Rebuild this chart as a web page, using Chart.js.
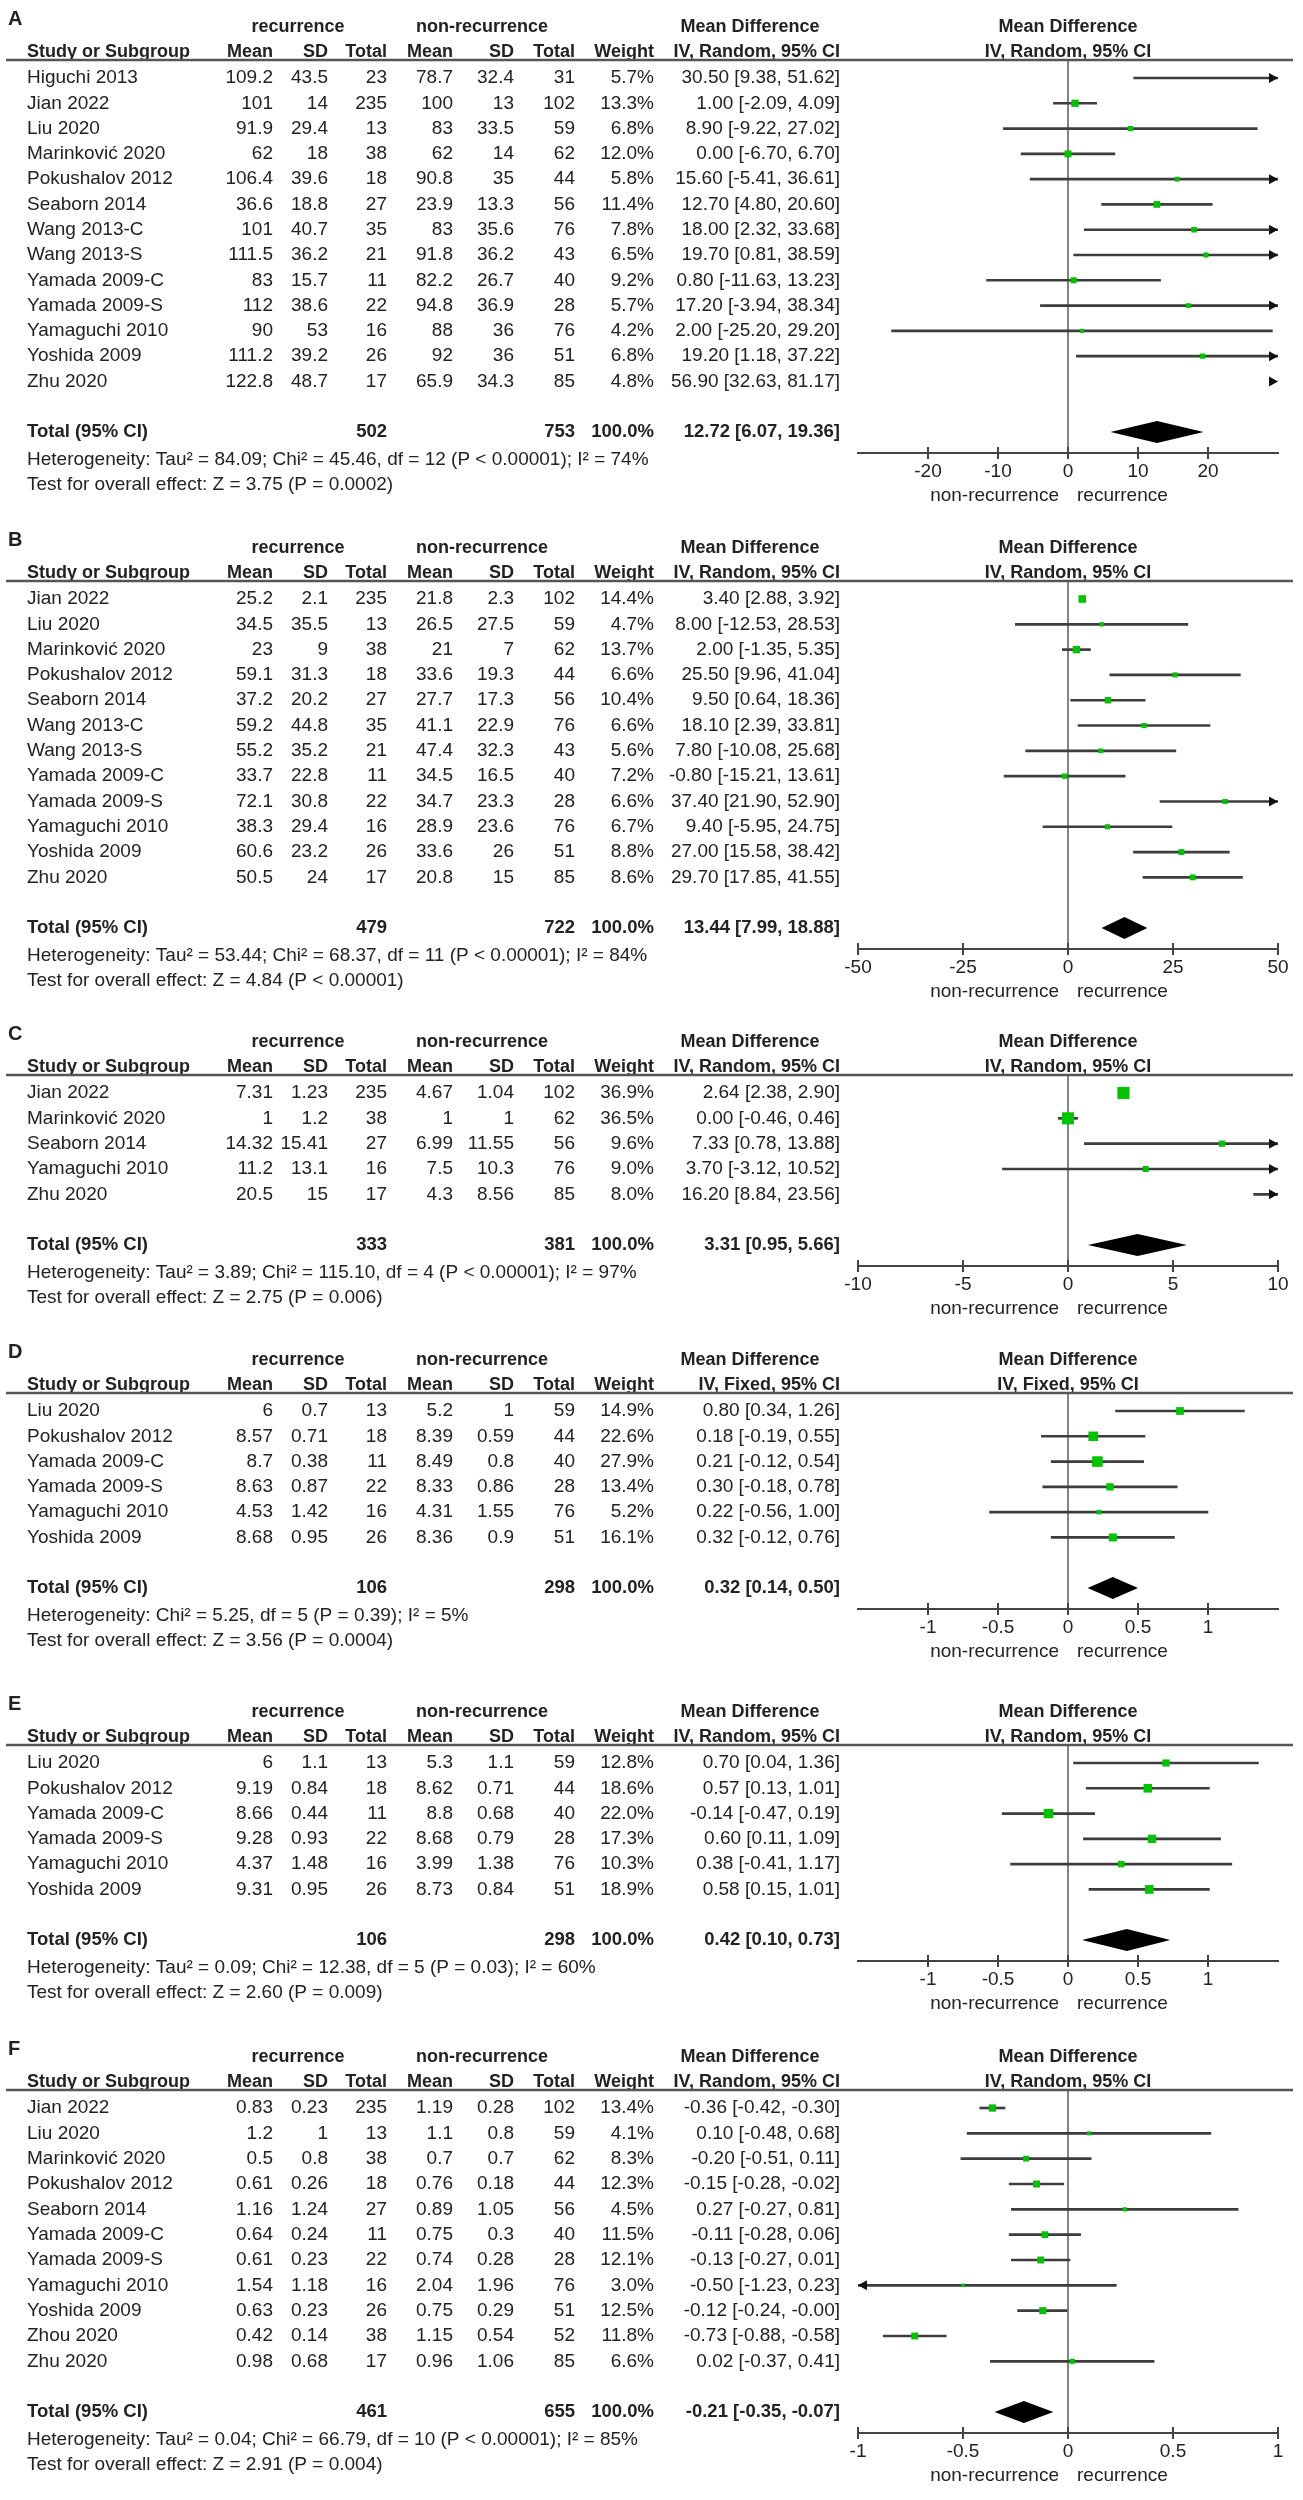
<!DOCTYPE html>
<html>
<head>
<meta charset="utf-8">
<script src="https://cdn.jsdelivr.net/npm/chart.js@4.4.1/dist/chart.umd.min.js"></script>
<style>
  html, body { margin: 0; padding: 0; background: #fff; }
  #page { position: relative; width: 1303px; height: 2500px; overflow: hidden; }
</style>
</head>
<body>
<div id="page"></div>
<script>
// ---- Panel A ----
const studiesA = ['Higuchi 2013', 'Jian 2022', 'Liu 2020', 'Marinković 2020', 'Pokushalov 2012', 'Seaborn 2014', 'Wang 2013-C', 'Wang 2013-S', 'Yamada 2009-C', 'Yamada 2009-S', 'Yamaguchi 2010', 'Yoshida 2009', 'Zhu 2020'];
const recMeanA = [109.2, 101, 91.9, 62, 106.4, 36.6, 101, 111.5, 83, 112, 90, 111.2, 122.8];
const recSdA = [43.5, 14, 29.4, 18, 39.6, 18.8, 40.7, 36.2, 15.7, 38.6, 53, 39.2, 48.7];
const recNA = [23, 235, 13, 38, 18, 27, 35, 21, 11, 22, 16, 26, 17];
const nonMeanA = [78.7, 100, 83, 62, 90.8, 23.9, 83, 91.8, 82.2, 94.8, 88, 92, 65.9];
const nonSdA = [32.4, 13, 33.5, 14, 35, 13.3, 35.6, 36.2, 26.7, 36.9, 36, 36, 34.3];
const nonNA = [31, 102, 59, 62, 44, 56, 76, 43, 40, 28, 76, 51, 85];
const weightA = [5.7, 13.3, 6.8, 12.0, 5.8, 11.4, 7.8, 6.5, 9.2, 5.7, 4.2, 6.8, 4.8];
const mdA = [30.50, 1.00, 8.90, 0.00, 15.60, 12.70, 18.00, 19.70, 0.80, 17.20, 2.00, 19.20, 56.90];
const lowA = [9.38, -2.09, -9.22, -6.70, -5.41, 4.80, 2.32, 0.81, -11.63, -3.94, -25.20, 1.18, 32.63];
const highA = [51.62, 4.09, 27.02, 6.70, 36.61, 20.60, 33.68, 38.59, 13.23, 38.34, 29.20, 37.22, 81.17];
const totalNA = [502, 753];
const pooledA = [12.72, 6.07, 19.36];
const hetA = 'Heterogeneity: Tau² = 84.09; Chi² = 45.46, df = 12 (P < 0.00001); I² = 74%';
const testA = 'Test for overall effect: Z = 3.75 (P = 0.0002)';
const methodA = 'IV, Random, 95% CI';
const axisA = [-30, 30];
const ticksA = [-20, -10, 0, 10, 20];

// ---- Panel B ----
const studiesB = ['Jian 2022', 'Liu 2020', 'Marinković 2020', 'Pokushalov 2012', 'Seaborn 2014', 'Wang 2013-C', 'Wang 2013-S', 'Yamada 2009-C', 'Yamada 2009-S', 'Yamaguchi 2010', 'Yoshida 2009', 'Zhu 2020'];
const recMeanB = [25.2, 34.5, 23, 59.1, 37.2, 59.2, 55.2, 33.7, 72.1, 38.3, 60.6, 50.5];
const recSdB = [2.1, 35.5, 9, 31.3, 20.2, 44.8, 35.2, 22.8, 30.8, 29.4, 23.2, 24];
const recNB = [235, 13, 38, 18, 27, 35, 21, 11, 22, 16, 26, 17];
const nonMeanB = [21.8, 26.5, 21, 33.6, 27.7, 41.1, 47.4, 34.5, 34.7, 28.9, 33.6, 20.8];
const nonSdB = [2.3, 27.5, 7, 19.3, 17.3, 22.9, 32.3, 16.5, 23.3, 23.6, 26, 15];
const nonNB = [102, 59, 62, 44, 56, 76, 43, 40, 28, 76, 51, 85];
const weightB = [14.4, 4.7, 13.7, 6.6, 10.4, 6.6, 5.6, 7.2, 6.6, 6.7, 8.8, 8.6];
const mdB = [3.40, 8.00, 2.00, 25.50, 9.50, 18.10, 7.80, -0.80, 37.40, 9.40, 27.00, 29.70];
const lowB = [2.88, -12.53, -1.35, 9.96, 0.64, 2.39, -10.08, -15.21, 21.90, -5.95, 15.58, 17.85];
const highB = [3.92, 28.53, 5.35, 41.04, 18.36, 33.81, 25.68, 13.61, 52.90, 24.75, 38.42, 41.55];
const totalNB = [479, 722];
const pooledB = [13.44, 7.99, 18.88];
const hetB = 'Heterogeneity: Tau² = 53.44; Chi² = 68.37, df = 11 (P < 0.00001); I² = 84%';
const testB = 'Test for overall effect: Z = 4.84 (P < 0.00001)';
const methodB = 'IV, Random, 95% CI';
const axisB = [-50, 50];
const ticksB = [-50, -25, 0, 25, 50];

// ---- Panel C ----
const studiesC = ['Jian 2022', 'Marinković 2020', 'Seaborn 2014', 'Yamaguchi 2010', 'Zhu 2020'];
const recMeanC = [7.31, 1, 14.32, 11.2, 20.5];
const recSdC = [1.23, 1.2, 15.41, 13.1, 15];
const recNC = [235, 38, 27, 16, 17];
const nonMeanC = [4.67, 1, 6.99, 7.5, 4.3];
const nonSdC = [1.04, 1, 11.55, 10.3, 8.56];
const nonNC = [102, 62, 56, 76, 85];
const weightC = [36.9, 36.5, 9.6, 9.0, 8.0];
const mdC = [2.64, 0.00, 7.33, 3.70, 16.20];
const lowC = [2.38, -0.46, 0.78, -3.12, 8.84];
const highC = [2.90, 0.46, 13.88, 10.52, 23.56];
const totalNC = [333, 381];
const pooledC = [3.31, 0.95, 5.66];
const hetC = 'Heterogeneity: Tau² = 3.89; Chi² = 115.10, df = 4 (P < 0.00001); I² = 97%';
const testC = 'Test for overall effect: Z = 2.75 (P = 0.006)';
const methodC = 'IV, Random, 95% CI';
const axisC = [-10, 10];
const ticksC = [-10, -5, 0, 5, 10];

// ---- Panel D ----
const studiesD = ['Liu 2020', 'Pokushalov 2012', 'Yamada 2009-C', 'Yamada 2009-S', 'Yamaguchi 2010', 'Yoshida 2009'];
const recMeanD = [6, 8.57, 8.7, 8.63, 4.53, 8.68];
const recSdD = [0.7, 0.71, 0.38, 0.87, 1.42, 0.95];
const recND = [13, 18, 11, 22, 16, 26];
const nonMeanD = [5.2, 8.39, 8.49, 8.33, 4.31, 8.36];
const nonSdD = [1, 0.59, 0.8, 0.86, 1.55, 0.9];
const nonND = [59, 44, 40, 28, 76, 51];
const weightD = [14.9, 22.6, 27.9, 13.4, 5.2, 16.1];
const mdD = [0.80, 0.18, 0.21, 0.30, 0.22, 0.32];
const lowD = [0.34, -0.19, -0.12, -0.18, -0.56, -0.12];
const highD = [1.26, 0.55, 0.54, 0.78, 1.00, 0.76];
const totalND = [106, 298];
const pooledD = [0.32, 0.14, 0.50];
const hetD = 'Heterogeneity: Chi² = 5.25, df = 5 (P = 0.39); I² = 5%';
const testD = 'Test for overall effect: Z = 3.56 (P = 0.0004)';
const methodD = 'IV, Fixed, 95% CI';
const axisD = [-1.5, 1.5];
const ticksD = [-1, -0.5, 0, 0.5, 1];

// ---- Panel E ----
const studiesE = ['Liu 2020', 'Pokushalov 2012', 'Yamada 2009-C', 'Yamada 2009-S', 'Yamaguchi 2010', 'Yoshida 2009'];
const recMeanE = [6, 9.19, 8.66, 9.28, 4.37, 9.31];
const recSdE = [1.1, 0.84, 0.44, 0.93, 1.48, 0.95];
const recNE = [13, 18, 11, 22, 16, 26];
const nonMeanE = [5.3, 8.62, 8.8, 8.68, 3.99, 8.73];
const nonSdE = [1.1, 0.71, 0.68, 0.79, 1.38, 0.84];
const nonNE = [59, 44, 40, 28, 76, 51];
const weightE = [12.8, 18.6, 22.0, 17.3, 10.3, 18.9];
const mdE = [0.70, 0.57, -0.14, 0.60, 0.38, 0.58];
const lowE = [0.04, 0.13, -0.47, 0.11, -0.41, 0.15];
const highE = [1.36, 1.01, 0.19, 1.09, 1.17, 1.01];
const totalNE = [106, 298];
const pooledE = [0.42, 0.10, 0.73];
const hetE = 'Heterogeneity: Tau² = 0.09; Chi² = 12.38, df = 5 (P = 0.03); I² = 60%';
const testE = 'Test for overall effect: Z = 2.60 (P = 0.009)';
const methodE = 'IV, Random, 95% CI';
const axisE = [-1.5, 1.5];
const ticksE = [-1, -0.5, 0, 0.5, 1];

// ---- Panel F ----
const studiesF = ['Jian 2022', 'Liu 2020', 'Marinković 2020', 'Pokushalov 2012', 'Seaborn 2014', 'Yamada 2009-C', 'Yamada 2009-S', 'Yamaguchi 2010', 'Yoshida 2009', 'Zhou 2020', 'Zhu 2020'];
const recMeanF = [0.83, 1.2, 0.5, 0.61, 1.16, 0.64, 0.61, 1.54, 0.63, 0.42, 0.98];
const recSdF = [0.23, 1, 0.8, 0.26, 1.24, 0.24, 0.23, 1.18, 0.23, 0.14, 0.68];
const recNF = [235, 13, 38, 18, 27, 11, 22, 16, 26, 38, 17];
const nonMeanF = [1.19, 1.1, 0.7, 0.76, 0.89, 0.75, 0.74, 2.04, 0.75, 1.15, 0.96];
const nonSdF = [0.28, 0.8, 0.7, 0.18, 1.05, 0.3, 0.28, 1.96, 0.29, 0.54, 1.06];
const nonNF = [102, 59, 62, 44, 56, 40, 28, 76, 51, 52, 85];
const weightF = [13.4, 4.1, 8.3, 12.3, 4.5, 11.5, 12.1, 3.0, 12.5, 11.8, 6.6];
const mdF = [-0.36, 0.10, -0.20, -0.15, 0.27, -0.11, -0.13, -0.50, -0.12, -0.73, 0.02];
const lowF = [-0.42, -0.48, -0.51, -0.28, -0.27, -0.28, -0.27, -1.23, -0.24, -0.88, -0.37];
const highF = [-0.30, 0.68, 0.11, -0.02, 0.81, 0.06, 0.01, 0.23, -0.00, -0.58, 0.41];
const totalNF = [461, 655];
const pooledF = [-0.21, -0.35, -0.07];
const hetF = 'Heterogeneity: Tau² = 0.04; Chi² = 66.79, df = 10 (P < 0.00001); I² = 85%';
const testF = 'Test for overall effect: Z = 2.91 (P = 0.004)';
const methodF = 'IV, Random, 95% CI';
const axisF = [-1, 1];
const ticksF = [-1, -0.5, 0, 0.5, 1];

// layout / style
const FAMILY = '"Liberation Sans", Arial, sans-serif';
const TEXT = '#222';
const ROW = 25.3;        // px per study row
const HEAD = 53;         // canvas top -> header rule
const TOP_GAP = 18;      // header rule -> first row
const BOTTOM_GAP = 21;   // total row -> axis
const AXIS_SPACE = 62;
const COLS = [273, 328, 387, 453, 514, 575, 654, 840]; // right edges of table columns

const panels = [
  { label: 'A', top: 7, studies: studiesA, recMean: recMeanA, recSd: recSdA, recN: recNA, nonMean: nonMeanA, nonSd: nonSdA, nonN: nonNA, weight: weightA, md: mdA, low: lowA, high: highA, totalN: totalNA, pooled: pooledA, het: hetA, test: testA, method: methodA, axis: axisA, ticks: ticksA },
  { label: 'B', top: 528, studies: studiesB, recMean: recMeanB, recSd: recSdB, recN: recNB, nonMean: nonMeanB, nonSd: nonSdB, nonN: nonNB, weight: weightB, md: mdB, low: lowB, high: highB, totalN: totalNB, pooled: pooledB, het: hetB, test: testB, method: methodB, axis: axisB, ticks: ticksB },
  { label: 'C', top: 1022, studies: studiesC, recMean: recMeanC, recSd: recSdC, recN: recNC, nonMean: nonMeanC, nonSd: nonSdC, nonN: nonNC, weight: weightC, md: mdC, low: lowC, high: highC, totalN: totalNC, pooled: pooledC, het: hetC, test: testC, method: methodC, axis: axisC, ticks: ticksC },
  { label: 'D', top: 1340, studies: studiesD, recMean: recMeanD, recSd: recSdD, recN: recND, nonMean: nonMeanD, nonSd: nonSdD, nonN: nonND, weight: weightD, md: mdD, low: lowD, high: highD, totalN: totalND, pooled: pooledD, het: hetD, test: testD, method: methodD, axis: axisD, ticks: ticksD },
  { label: 'E', top: 1692, studies: studiesE, recMean: recMeanE, recSd: recSdE, recN: recNE, nonMean: nonMeanE, nonSd: nonSdE, nonN: nonNE, weight: weightE, md: mdE, low: lowE, high: highE, totalN: totalNE, pooled: pooledE, het: hetE, test: testE, method: methodE, axis: axisE, ticks: ticksE },
  { label: 'F', top: 2037, studies: studiesF, recMean: recMeanF, recSd: recSdF, recN: recNF, nonMean: nonMeanF, nonSd: nonSdF, nonN: nonNF, weight: weightF, md: mdF, low: lowF, high: highF, totalN: totalNF, pooled: pooledF, het: hetF, test: testF, method: methodF, axis: axisF, ticks: ticksF }
];

function fmt2(v) {
  return (Object.is(v, -0) ? '-' : '') + v.toFixed(2);
}

function ciText(m, l, h) {
  return fmt2(m) + ' [' + fmt2(l) + ', ' + fmt2(h) + ']';
}

function put(ctx, s, x, y, align, font) {
  ctx.font = font;
  ctx.textAlign = align;
  ctx.fillText(s, x, y);
}

function arrowHead(ctx, x, y, dir) {
  ctx.beginPath();
  ctx.moveTo(x, y);
  ctx.lineTo(x - dir * 9, y - 5);
  ctx.lineTo(x - dir * 9, y + 5);
  ctx.closePath();
  ctx.fill();
}

function makeTablePlugin(p) {
  return {
    id: 'forestTable',
    beforeDatasetsDraw(chart) {
      const { ctx, chartArea } = chart;
      const x0 = chart.scales.x.getPixelForValue(0);
      ctx.save();
      ctx.strokeStyle = '#5a5a5a';
      ctx.lineWidth = 1.5;
      ctx.beginPath();
      ctx.moveTo(x0, chartArea.top);
      ctx.lineTo(x0, chartArea.bottom);
      ctx.stroke();
      ctx.restore();
    },
    afterDraw(chart) {
      const { ctx, chartArea } = chart;
      const xs = chart.scales.x;
      const ys = chart.scales.y;
      const x0 = xs.getPixelForValue(0);
      const n = p.studies.length;
      const reg = '19px ' + FAMILY;
      const bold = 'bold 18px ' + FAMILY;

      ctx.save();
      ctx.fillStyle = TEXT;
      ctx.textBaseline = 'middle';

      // panel letter + header
      put(ctx, p.label, 8, 12, 'left', 'bold 20px ' + FAMILY);
      put(ctx, 'recurrence', 298, 20, 'center', bold);
      put(ctx, 'non-recurrence', 482, 20, 'center', bold);
      put(ctx, 'Mean Difference', 750, 20, 'center', bold);
      put(ctx, 'Mean Difference', x0, 20, 'center', bold);
      put(ctx, 'Study or Subgroup', 27, 45, 'left', bold);
      const heads = ['Mean', 'SD', 'Total', 'Mean', 'SD', 'Total', 'Weight', p.method];
      heads.forEach((h, k) => put(ctx, h, COLS[k], 45, 'right', bold));
      put(ctx, p.method, x0, 45, 'center', bold);

      // header rule
      ctx.fillStyle = '#555';
      ctx.fillRect(6, chartArea.top - 1.25, 1287, 2.5);
      ctx.fillStyle = TEXT;

      // study rows
      p.studies.forEach((s, i) => {
        const y = ys.getPixelForValue(i);
        put(ctx, s, 27, y, 'left', reg);
        const cells = [
          String(p.recMean[i]), String(p.recSd[i]), String(p.recN[i]),
          String(p.nonMean[i]), String(p.nonSd[i]), String(p.nonN[i]),
          p.weight[i].toFixed(1) + '%', ciText(p.md[i], p.low[i], p.high[i])
        ];
        cells.forEach((c, k) => put(ctx, c, COLS[k], y, 'right', reg));
      });

      // total row
      const yt = ys.getPixelForValue(n + 1);
      const tb = 'bold 18.5px ' + FAMILY;
      put(ctx, 'Total (95% CI)', 27, yt, 'left', tb);
      put(ctx, String(p.totalN[0]), COLS[2], yt, 'right', tb);
      put(ctx, String(p.totalN[1]), COLS[5], yt, 'right', tb);
      put(ctx, (100).toFixed(1) + '%', COLS[6], yt, 'right', tb);
      put(ctx, ciText(p.pooled[0], p.pooled[1], p.pooled[2]), COLS[7], yt, 'right', tb);
      put(ctx, p.het, 27, yt + 28, 'left', reg);
      put(ctx, p.test, 27, yt + 53, 'left', reg);

      // pooled diamond
      ctx.fillStyle = '#000';
      ctx.beginPath();
      ctx.moveTo(xs.getPixelForValue(p.pooled[1]), yt);
      ctx.lineTo(xs.getPixelForValue(p.pooled[0]), yt - 11);
      ctx.lineTo(xs.getPixelForValue(p.pooled[2]), yt);
      ctx.lineTo(xs.getPixelForValue(p.pooled[0]), yt + 11);
      ctx.closePath();
      ctx.fill();

      // arrows for intervals running off the axis
      ctx.fillStyle = '#111';
      p.low.forEach((l, i) => {
        const y = ys.getPixelForValue(i);
        if (p.high[i] > xs.max) arrowHead(ctx, xs.getPixelForValue(xs.max), y, 1);
        if (l < xs.min) arrowHead(ctx, xs.getPixelForValue(xs.min), y, -1);
      });

      // tick marks also rise above the axis line
      const axisY = chartArea.bottom;
      ctx.strokeStyle = '#444';
      ctx.lineWidth = 2;
      xs.ticks.forEach(t => {
        const px = xs.getPixelForValue(t.value);
        ctx.beginPath();
        ctx.moveTo(px, axisY - 6);
        ctx.lineTo(px, axisY);
        ctx.stroke();
      });

      // favours labels
      ctx.fillStyle = TEXT;
      put(ctx, 'non-recurrence', x0 - 9, axisY + 43, 'right', reg);
      put(ctx, 'recurrence', x0 + 9, axisY + 43, 'left', reg);
      ctx.restore();
    }
  };
}

const page = document.getElementById('page');

panels.forEach(p => {
  const n = p.studies.length;
  const chartH = TOP_GAP + BOTTOM_GAP + (n + 1) * ROW;
  const H = Math.round(HEAD + chartH + AXIS_SPACE);
  const canvas = document.createElement('canvas');
  canvas.width = 1303;
  canvas.height = H;
  canvas.style.position = 'absolute';
  canvas.style.left = '0px';
  canvas.style.top = p.top + 'px';
  canvas.style.width = '1303px';
  canvas.style.height = H + 'px';
  page.appendChild(canvas);

  new Chart(canvas, {
    type: 'scatter',
    data: {
      datasets: [
        {
          type: 'bar',
          data: p.low.map((l, i) => ({ x: [l, p.high[i]], y: i })),
          backgroundColor: '#3d3d3d',
          barThickness: 2,
          borderWidth: 0,
          clip: 0,
          order: 2
        },
        {
          type: 'scatter',
          data: p.md.map((m, i) => ({ x: m, y: i })),
          pointStyle: 'rect',
          pointRadius: c => Math.SQRT2 * Math.sqrt(p.weight[c.dataIndex]),
          backgroundColor: '#00c400',
          borderWidth: 0,
          clip: 0,
          order: 1
        }
      ]
    },
    options: {
      responsive: false,
      animation: false,
      events: [],
      datasets: { bar: { indexAxis: 'y' } },
      layout: { padding: { left: 858, right: 25, top: HEAD, bottom: 0 } },
      plugins: { legend: { display: false }, tooltip: { enabled: false } },
      scales: {
        x: {
          type: 'linear',
          min: p.axis[0],
          max: p.axis[1],
          offset: false,
          afterBuildTicks: s => { s.ticks = p.ticks.map(v => ({ value: v })); },
          afterFit: s => { s.height = AXIS_SPACE; },
          ticks: {
            autoSkip: false,
            maxRotation: 0,
            padding: 1,
            color: TEXT,
            font: { family: FAMILY, size: 19 },
            callback: v => String(v)
          },
          grid: { display: true, drawOnChartArea: false, drawTicks: true, tickLength: 6, color: '#444', lineWidth: 2, offset: false },
          border: { display: true, color: '#444', width: 2 }
        },
        y: {
          type: 'linear',
          reverse: true,
          min: -TOP_GAP / ROW,
          max: n + 1 + BOTTOM_GAP / ROW,
          display: false,
          offset: false,
          grid: { offset: false }
        }
      }
    },
    plugins: [makeTablePlugin(p)]
  });
});
</script>
</body>
</html>
